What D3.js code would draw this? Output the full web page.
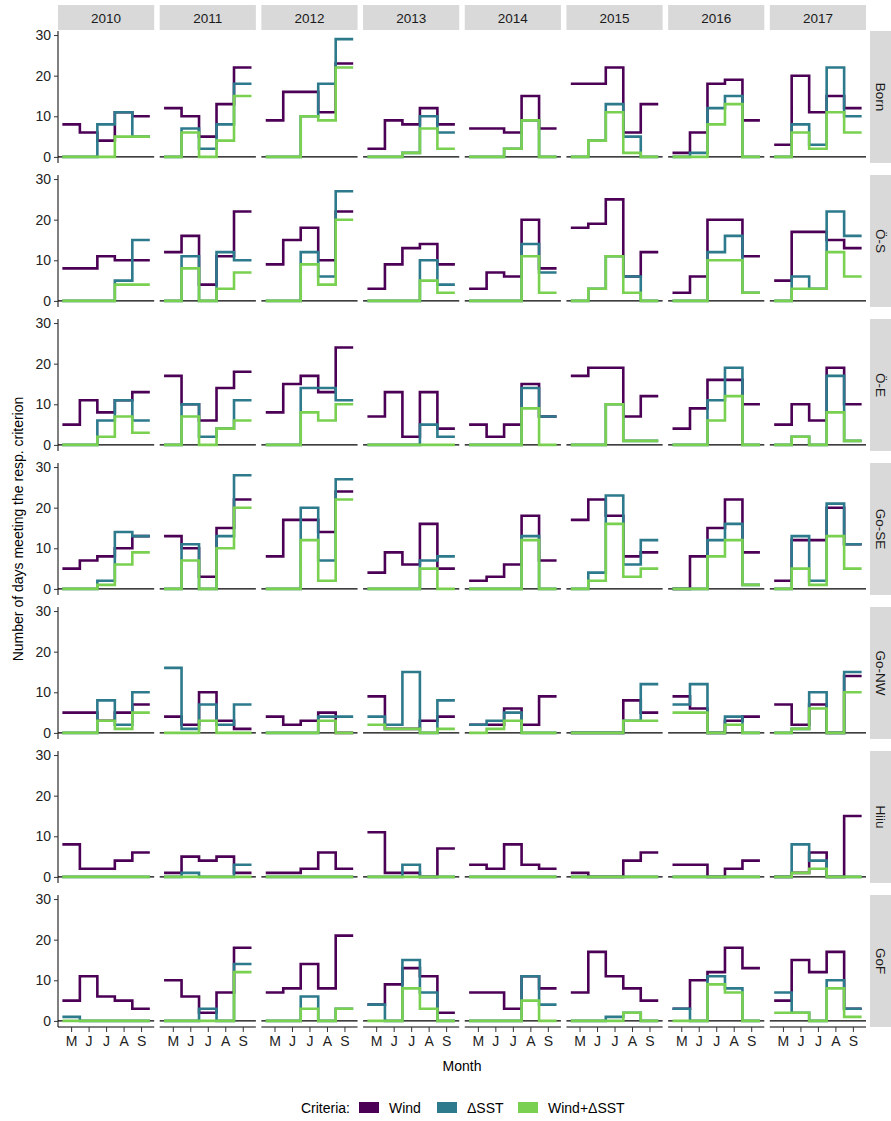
<!DOCTYPE html>
<html><head><meta charset="utf-8">
<script src="https://cdn.jsdelivr.net/npm/d3@7/dist/d3.min.js"></script>
<style>body{margin:0;background:#fff}text{font-family:"Liberation Sans",Arial,sans-serif}</style>
</head><body><svg id="c" width="891" height="1121"></svg>
<script>
const years = ["2010","2011","2012","2013","2014","2015","2016","2017"];
const regions = ["Born","Ö-S","Ö-E","Go-SE","Go-NW","Hiiu","GoF"];
const monthLabels = ["M","J","J","A","S"];
const seriesNames = ["Wind","ΔSST","Wind+ΔSST"];
const seriesColors = ["#4B0055","#2C7A8C","#7AD151"];

// values per region: one row of 5 months (May–Sep) per year 2010..2017
const wind_Born = [[8,6,4,11,10],[12,10,5,13,22],[9,16,16,11,23],[2,9,8,12,8],[7,7,6,15,7],[18,18,22,6,13],[1,6,18,19,9],[3,20,11,15,12]];
const sst_Born  = [[0,0,8,11,5],[0,7,2,8,18],[0,0,10,18,29],[0,0,1,10,6],[0,0,2,9,0],[0,4,13,5,0],[0,1,12,15,0],[0,8,3,22,10]];
const both_Born = [[0,0,0,5,5],[0,6,0,4,15],[0,0,10,9,22],[0,0,1,7,2],[0,0,2,9,0],[0,4,11,1,0],[0,0,8,13,0],[0,6,2,11,6]];

const wind_OS = [[8,8,11,10,10],[12,16,4,11,22],[9,15,18,10,22],[3,9,13,14,9],[3,7,6,20,8],[18,19,25,6,12],[2,6,20,20,11],[5,17,17,15,13]];
const sst_OS  = [[0,0,0,5,15],[0,11,0,12,10],[0,0,12,6,27],[0,0,0,10,4],[0,0,0,14,7],[0,3,11,6,0],[0,0,12,16,2],[0,6,3,22,16]];
const both_OS = [[0,0,0,4,4],[0,8,0,3,7],[0,0,9,4,20],[0,0,0,5,2],[0,0,0,11,2],[0,3,11,2,0],[0,0,10,10,2],[0,3,3,12,6]];

const wind_OE = [[5,11,8,11,13],[17,10,6,14,18],[8,15,17,13,24],[7,13,2,13,4],[5,2,5,15,7],[17,19,19,7,12],[4,9,16,16,10],[5,10,6,19,10]];
const sst_OE  = [[0,0,6,11,6],[0,10,2,4,11],[0,0,14,14,11],[0,0,0,5,2],[0,0,0,14,7],[0,0,10,1,1],[0,0,11,19,0],[0,2,0,17,1]];
const both_OE = [[0,0,2,7,3],[0,7,0,4,6],[0,0,8,6,10],[0,0,0,0,0],[0,0,0,9,0],[0,0,10,1,1],[0,0,6,12,0],[0,2,0,8,1]];

const wind_GoSE = [[5,7,8,10,13],[13,10,3,15,22],[8,17,17,14,24],[4,9,6,16,5],[2,3,6,18,7],[17,22,18,8,9],[0,8,15,22,9],[2,12,12,20,11]];
const sst_GoSE  = [[0,0,2,14,13],[0,11,0,13,28],[0,0,20,7,27],[0,0,0,7,8],[0,0,0,13,0],[0,4,23,6,12],[0,0,12,16,1],[0,13,2,21,11]];
const both_GoSE = [[0,0,1,6,9],[0,7,0,10,20],[0,0,12,2,22],[0,0,0,5,0],[0,0,0,12,0],[0,2,16,3,5],[0,0,8,12,1],[0,5,1,13,5]];

const wind_GoNW = [[5,5,3,5,7],[4,2,10,3,1],[4,2,3,5,0],[9,1,1,3,4],[2,2,6,2,9],[0,0,0,8,5],[9,6,0,3,4],[7,2,7,0,14]];
const sst_GoNW  = [[0,0,8,2,10],[16,1,7,2,7],[0,0,0,4,4],[4,2,15,0,8],[2,3,5,0,0],[0,0,0,3,12],[7,12,0,4,0],[0,1,10,0,15]];
const both_GoNW = [[0,0,3,1,5],[0,0,3,0,0],[0,0,0,3,0],[2,1,1,0,1],[0,1,3,0,0],[0,0,0,3,3],[5,5,0,2,0],[0,1,6,0,10]];

const wind_Hiiu = [[8,2,2,4,6],[1,5,4,5,1],[1,1,2,6,2],[11,1,1,0,7],[3,2,8,3,2],[1,0,0,4,6],[3,3,0,2,4],[0,1,6,0,15]];
const sst_Hiiu  = [[0,0,0,0,0],[0,1,0,0,3],[0,0,0,0,0],[0,0,3,0,0],[0,0,0,0,0],[0,0,0,0,0],[0,0,0,0,0],[0,8,4,0,0]];
const both_Hiiu = [[0,0,0,0,0],[0,0,0,0,0],[0,0,0,0,0],[0,0,0,0,0],[0,0,0,0,0],[0,0,0,0,0],[0,0,0,0,0],[0,1,2,0,0]];

const wind_GoF = [[5,11,6,5,3],[10,6,2,7,18],[7,8,14,8,21],[4,9,13,11,2],[7,7,3,11,8],[7,17,11,8,5],[3,10,12,18,13],[5,15,12,17,3]];
const sst_GoF  = [[1,0,0,0,0],[0,0,3,0,14],[0,0,6,0,3],[4,0,15,7,0],[0,0,0,11,4],[0,0,1,2,0],[3,0,11,8,0],[7,2,0,10,3]];
const both_GoF = [[0,0,0,0,0],[0,0,0,0,12],[0,0,3,0,3],[0,0,8,3,0],[0,0,0,5,0],[0,0,0,2,0],[0,0,9,7,0],[2,2,0,8,1]];

const data = [
  [wind_Born,sst_Born,both_Born],[wind_OS,sst_OS,both_OS],[wind_OE,sst_OE,both_OE],
  [wind_GoSE,sst_GoSE,both_GoSE],[wind_GoNW,sst_GoNW,both_GoNW],[wind_Hiiu,sst_Hiiu,both_Hiiu],[wind_GoF,sst_GoF,both_GoF]];

const svg = d3.select("#c");
const left = 58, right = 866, top0 = 31, rowStep = 144, panelH = 132, gap = 5.5;
const panelW = (right - left - gap*7)/8;
const x = d3.scaleLinear().domain([4.25, 9.75]).range([0, panelW]);
const y = d3.scaleLinear().domain([-1.5, 31]).range([panelH, 0]);
const line = d3.line().x(d=>x(d[0])).y(d=>y(d[1]));

years.forEach((yr,j)=>{
  const px = left + j*(panelW+gap);
  svg.append("rect").attr("x",px).attr("y",5).attr("width",panelW).attr("height",top0-5-1).attr("fill","#d9d9d9");
  svg.append("text").attr("x",px+panelW/2).attr("y",22.5).attr("text-anchor","middle").attr("font-size",13.5).attr("fill","#1a1a1a").text(yr);
});

regions.forEach((rg,i)=>{
  const py = top0 + i*rowStep;
  svg.append("rect").attr("x",right+4).attr("y",py).attr("width",891-right-4).attr("height",panelH).attr("fill","#d9d9d9");
  svg.append("text").attr("transform",`translate(${right+10},${py+panelH/2}) rotate(90)`).attr("text-anchor","middle")
    .attr("font-size",13.5).attr("fill","#1a1a1a").text(rg);
  const ya = svg.append("g").attr("transform",`translate(${left},${py})`)
    .call(d3.axisLeft(y).tickValues([0,10,20,30]).tickSize(4).tickPadding(3));
  ya.select(".domain").attr("d",`M0,0V${panelH}`).attr("stroke","#000");
  ya.selectAll("text").attr("font-size",14).attr("fill","#222").attr("font-family","Liberation Sans, Arial, sans-serif");
  ya.selectAll(".tick line").attr("stroke","#333");

  years.forEach((yr,j)=>{
    const px = left + j*(panelW+gap);
    const g = svg.append("g").attr("transform",`translate(${px},${py})`);
    g.append("line").attr("x1",0).attr("x2",panelW).attr("y1",y(0)).attr("y2",y(0)).attr("stroke","#000").attr("stroke-width",1.2);
    data[i].forEach((ser,s)=>{
      const vals = ser[j];
      const pts = [];
      vals.forEach((v,k)=>{pts.push([5+k-0.5,v]);pts.push([5+k+0.5,v]);});
      g.append("path").attr("d",line(pts)).attr("fill","none").attr("stroke",seriesColors[s])
        .attr("stroke-width",2.6).attr("stroke-linejoin","miter").attr("stroke-linecap","butt");
    });
    if(i===regions.length-1){
      const xa = g.append("g").attr("transform",`translate(0,${panelH})`)
        .call(d3.axisBottom(x).tickValues([5,6,7,8,9]).tickFormat((d,k)=>monthLabels[k]).tickSize(5).tickPadding(4));
      xa.select(".domain").attr("d",`M0,0H${panelW}`).attr("stroke","#000");
      xa.selectAll("text").attr("font-size",14).attr("fill","#222").attr("font-family","Liberation Sans, Arial, sans-serif");
      xa.selectAll(".tick line").attr("stroke","#333");
    }
  });
});

svg.append("text").attr("x",(left+right)/2).attr("y",1071).attr("text-anchor","middle").attr("font-size",14).attr("fill","#000").text("Month");
svg.append("text").attr("transform",`translate(23,${top0+(6*rowStep+panelH)/2}) rotate(-90)`).attr("text-anchor","middle")
  .attr("font-size",14).attr("fill","#000").text("Number of days meeting the resp. criterion");

const lg = svg.append("g");
lg.append("text").attr("x",350).attr("y",1113).attr("text-anchor","end").attr("font-size",14).text("Criteria:");
const lx = [359,437,518];
seriesNames.forEach((n,s)=>{
  lg.append("rect").attr("x",lx[s]).attr("y",1102).attr("width",20).attr("height",11).attr("fill",seriesColors[s]);
  lg.append("text").attr("x",lx[s]+30).attr("y",1113).attr("font-size",14).text(n);
});
</script></body></html>
